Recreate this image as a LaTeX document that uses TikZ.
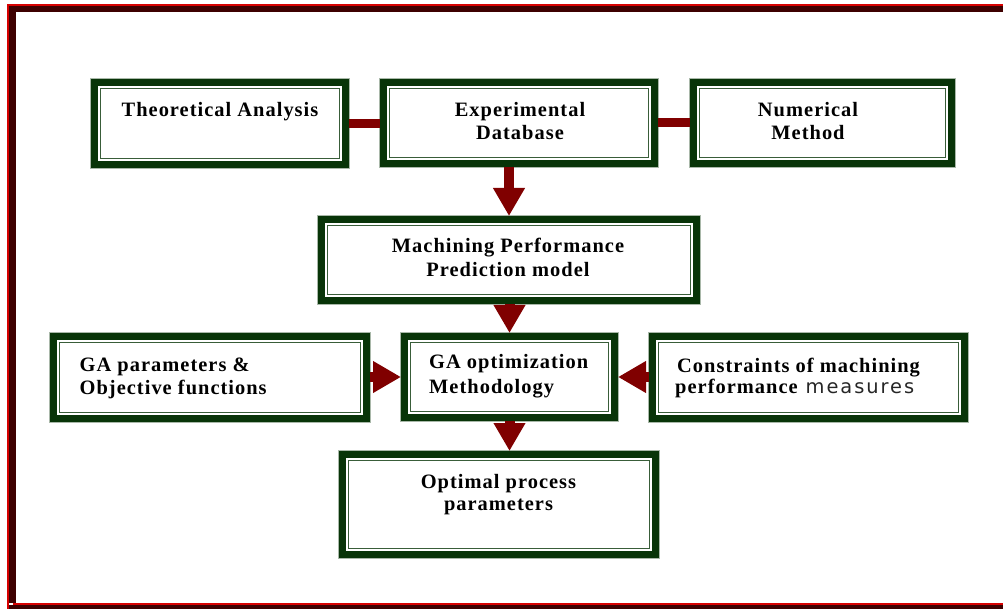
\documentclass[tikz,border=0pt]{standalone}
\usepackage{fontspec}
\setmainfont{Liberation Serif}
\newfontfamily\labelfont{Liberation Serif}[LetterSpace=5]
\newfontfamily\wordfont{DejaVu Sans}[LetterSpace=10]
\usetikzlibrary{arrows.meta}

\definecolor{boxgreen}{RGB}{8,52,8}
\definecolor{arrowred}{RGB}{128,0,0}
\definecolor{framedark}{RGB}{62,0,0}
\definecolor{framered}{RGB}{215,0,0}

\tikzset{
  stage/.style 2 args={
    rectangle, draw=boxgreen, line width=7bp, fill=white, inner sep=0pt,
    minimum width={#1-7bp}, minimum height={#2-7bp},
    preaction={draw=boxgreen!35!white, line width=8.6bp},
    path picture={
      \draw[boxgreen!80!white, line width=1.2bp]
        ([xshift=6bp,yshift=-6bp]path picture bounding box.north west) rectangle
        ([xshift=-6bp,yshift=6bp]path picture bounding box.south east);
    }
  },
  lbl/.style={inner sep=0pt, font=\labelfont\bfseries\fontsize{20.5}{24}\selectfont},
  flowarrow/.style={draw=arrowred, line width=10bp,
    -{Triangle[width=30bp,length=28bp]}},
  link/.style={draw=arrowred, line width=9bp}
}

\begin{document}
\begin{tikzpicture}[x=1bp,y=-1bp]
\useasboundingbox (0,0) rectangle (1003,609);

% outer frame
\fill[framered] (7.3,4) rectangle (1003,6);
\fill[framered] (7.3,4) rectangle (8.7,609);
\fill[framedark] (8.7,6) rectangle (1003,12.5);
\fill[framedark] (8.7,6) rectangle (16,603);
\fill[framered] (13,602.7) rectangle (1003,605);
\fill[framedark] (8.7,605) rectangle (1003,609);

% process boxes
\node[stage={258bp}{89bp}] (theo)  at (220,123.5) {};
\node[stage={278bp}{88bp}] (exp)   at (519,123)   {};
\node[stage={265bp}{88bp}] (num)   at (822.5,123) {};
\node[stage={382bp}{88bp}] (mach)  at (509,260)   {};
\node[stage={320bp}{89bp}] (gapar) at (210,377.5) {};
\node[stage={217bp}{88bp}] (gaopt) at (509.5,377) {};
\node[stage={319bp}{89bp}] (cons)  at (808.5,377.5) {};
\node[stage={320bp}{107bp}] (opt)  at (499,504.5) {};

% box labels
\node[lbl, anchor=base] (theo-a) at (220,117) {Theoretical Analysis};
\node[lbl, anchor=base] (exp-a) at (520,117) {Experimental};
\node[lbl, anchor=base] (exp-b) at (520,140) {Database};
\node[lbl, anchor=base] (num-a) at (808,117) {Numerical};
\node[lbl, anchor=base] (num-b) at (808,140) {Method};
\node[lbl, anchor=base] (mach-a) at (508,253) {Machining Performance};
\node[lbl, anchor=base] (mach-b) at (508,277) {Prediction model};
\node[lbl, anchor=base west] (gapar-a) at (79.5,371) {GA parameters \&};
\node[lbl, anchor=base west] (gapar-b) at (79.5,394) {Objective functions};
\node[lbl, anchor=base west] (gaopt-a) at (429,368) {GA optimization};
\node[lbl, anchor=base west] (gaopt-b) at (429,393) {Methodology};
\node[lbl, anchor=base west] (cons-a) at (677,372) {Constraints of machining};
\node[lbl, anchor=base west] (cons-b) at (675,393)
  {performance\hspace{8bp}{\wordfont\mdseries\fontsize{19.5}{24}\selectfont\color{black!85}measures}};
\node[lbl, anchor=base] (opt-a) at (498.5,488) {Optimal process};
\node[lbl, anchor=base] (opt-b) at (498.5,510) {parameters};

% connectors
\draw[link] (theo.east) -- (theo.east -| exp.west);
\draw[link] (exp.east) -- (exp.east -| num.west);
\draw[flowarrow] (exp.south -| mach.north) -- (mach.north);
\draw[flowarrow] (mach.south -| gaopt.north) -- (gaopt.north);
\draw[flowarrow] (gapar.east |- gaopt.west) -- (gaopt.west);
\draw[flowarrow] (cons.west |- gaopt.east) -- (gaopt.east);
\draw[flowarrow] (gaopt.south) -- (gaopt.south |- opt.north);
\end{tikzpicture}
\end{document}
